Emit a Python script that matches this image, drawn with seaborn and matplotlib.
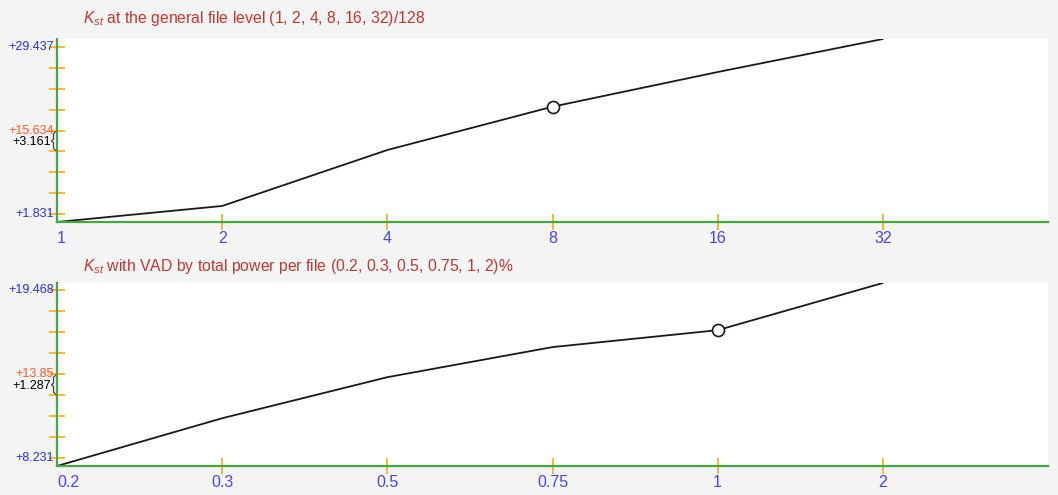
import numpy as np
import pandas as pd
import matplotlib
matplotlib.use("Agg")
import matplotlib.pyplot as plt
import matplotlib.transforms as mtransforms
import seaborn as sns

# --- data -------------------------------------------------------------
top_labels = ["1", "2", "4", "8", "16", "32"]
top_values = [0.51, 3.16, 12.41, 19.57, 25.30, 30.76]
top_marked = "8"
top_title = r"$K_{st}$ at the general file level (1, 2, 4, 8, 16, 32)/128"
top_ymin, top_ymid, top_ymax = 1.831, 15.634, 29.437
top_note = "+3.161"

bot_labels = ["0.2", "0.3", "0.5", "0.75", "1", "2"]
bot_values = [7.72, 10.91, 13.65, 15.66, 16.79, 19.94]
bot_marked = "1"
bot_title = r"$K_{st}$ with VAD by total power per file (0.2, 0.3, 0.5, 0.75, 1, 2)%"
bot_ymin, bot_ymid, bot_ymax = 8.231, 13.85, 19.468
bot_note = "+1.287"

# --- style ------------------------------------------------------------
sns.set_style("white")
plt.rcParams["font.family"] = ["Liberation Sans", "DejaVu Sans"]
plt.rcParams["mathtext.fontset"] = "custom"
plt.rcParams["mathtext.it"] = "Liberation Sans:italic"
plt.rcParams["mathtext.rm"] = "Liberation Sans"

BG = "#f4f4f4"
GREEN = "#43a843"
TICK = "#f5b21c"
BLUE = "#2b2bff"
XBLUE = "#4646f0"
ORANGE = "#ff5a22"
RED = "#c0392f"

W, H = 1058, 495
fig = plt.figure(figsize=(W / 100, H / 100), dpi=100, facecolor=BG)


def px_axes(x0, y0, x1, y1):
    return fig.add_axes([x0 / W, 1 - y1 / H, (x1 - x0) / W, (y1 - y0) / H])


def panel(ax, labels, values, marked, title, title_y, ymin, ymid, ymax, note):
    df = pd.DataFrame({"pos": np.arange(len(labels)), "val": values, "lab": labels})
    sns.lineplot(data=df, x="pos", y="val", ax=ax, color="#1a1a1a",
                 linewidth=1.3, zorder=3)
    hi = df[df["lab"] == marked]
    sns.scatterplot(data=hi, x="pos", y="val", ax=ax, s=75, marker="o",
                    facecolor="white", edgecolor="#1a1a1a", linewidth=1.2,
                    zorder=4, legend=False)

    ax.set_facecolor("white")
    ax.set_xlim(0, 6.0)
    ax.set_ylim(min(values), max(values))
    for side in ("top", "right"):
        ax.spines[side].set_visible(False)
    for side in ("left", "bottom"):
        ax.spines[side].set_color(GREEN)
        ax.spines[side].set_linewidth(1.6)
        ax.spines[side].set_zorder(5)

    # y ticks: nine evenly spaced marks, labelled at bottom, middle and top
    yt = np.linspace(ymin, ymax, 9)
    step = yt[1] - yt[0]
    ax.set_yticks(yt)
    ax.set_yticklabels([""] * 9)
    ax.tick_params(axis="y", direction="inout", length=11, width=1.3,
                   color=TICK, left=True)
    tr = ax.get_yaxis_transform()
    pix = mtransforms.ScaledTranslation(-3 / 100, 0, fig.dpi_scale_trans)
    for val, col in ((ymax, BLUE), (ymin, BLUE), (ymid, ORANGE)):
        ax.text(0, val, f"+{val:g}", transform=tr + pix, ha="right",
                va="center", color=col, fontsize=9, clip_on=False)
    pix_note = mtransforms.ScaledTranslation(-6 / 100, 0, fig.dpi_scale_trans)
    ax.text(0, ymid - step * 0.55, note, transform=tr + pix_note, ha="right",
            va="center", color="black", fontsize=9, clip_on=False)

    # curly bracket between the middle mark and the next one down
    bx = np.array([0, -2, -2, -4, -2, -2, 0]) / 100.0 - 1.5 / 100
    by = ymid - step * np.array([0.05, 0.15, 0.42, 0.5, 0.58, 0.85, 0.95])
    inch_data = mtransforms.blended_transform_factory(fig.dpi_scale_trans,
                                                      ax.transData)
    x0_in = ax.get_position().x0 * W / 100
    ax.plot(x0_in + bx, by, transform=inch_data, color="#444444", lw=0.9,
            clip_on=False, zorder=6)

    # x ticks
    ax.set_xticks(np.arange(len(labels)))
    ax.set_xticklabels(labels, color=XBLUE, fontsize=11.5)
    ax.tick_params(axis="x", direction="inout", length=11, width=1.3,
                   color=TICK, bottom=True, pad=1)
    ax.get_xticklines()[0].set_visible(False)
    ax.get_xticklabels()[0].set_horizontalalignment("left")
    ax.set_xlabel("")
    ax.set_ylabel("")

    fig.text(83 / W, 1 - title_y / H, title, ha="left", va="center",
             color=RED, fontsize=11.3)


ax1 = px_axes(57, 39, 1048, 222)
panel(ax1, top_labels, top_values, top_marked, top_title, 19,
      top_ymin, top_ymid, top_ymax, top_note)

ax2 = px_axes(57, 283, 1048, 466)
panel(ax2, bot_labels, bot_values, bot_marked, bot_title, 267,
      bot_ymin, bot_ymid, bot_ymax, bot_note)

fig.savefig("out.png", dpi=100, facecolor=BG)
